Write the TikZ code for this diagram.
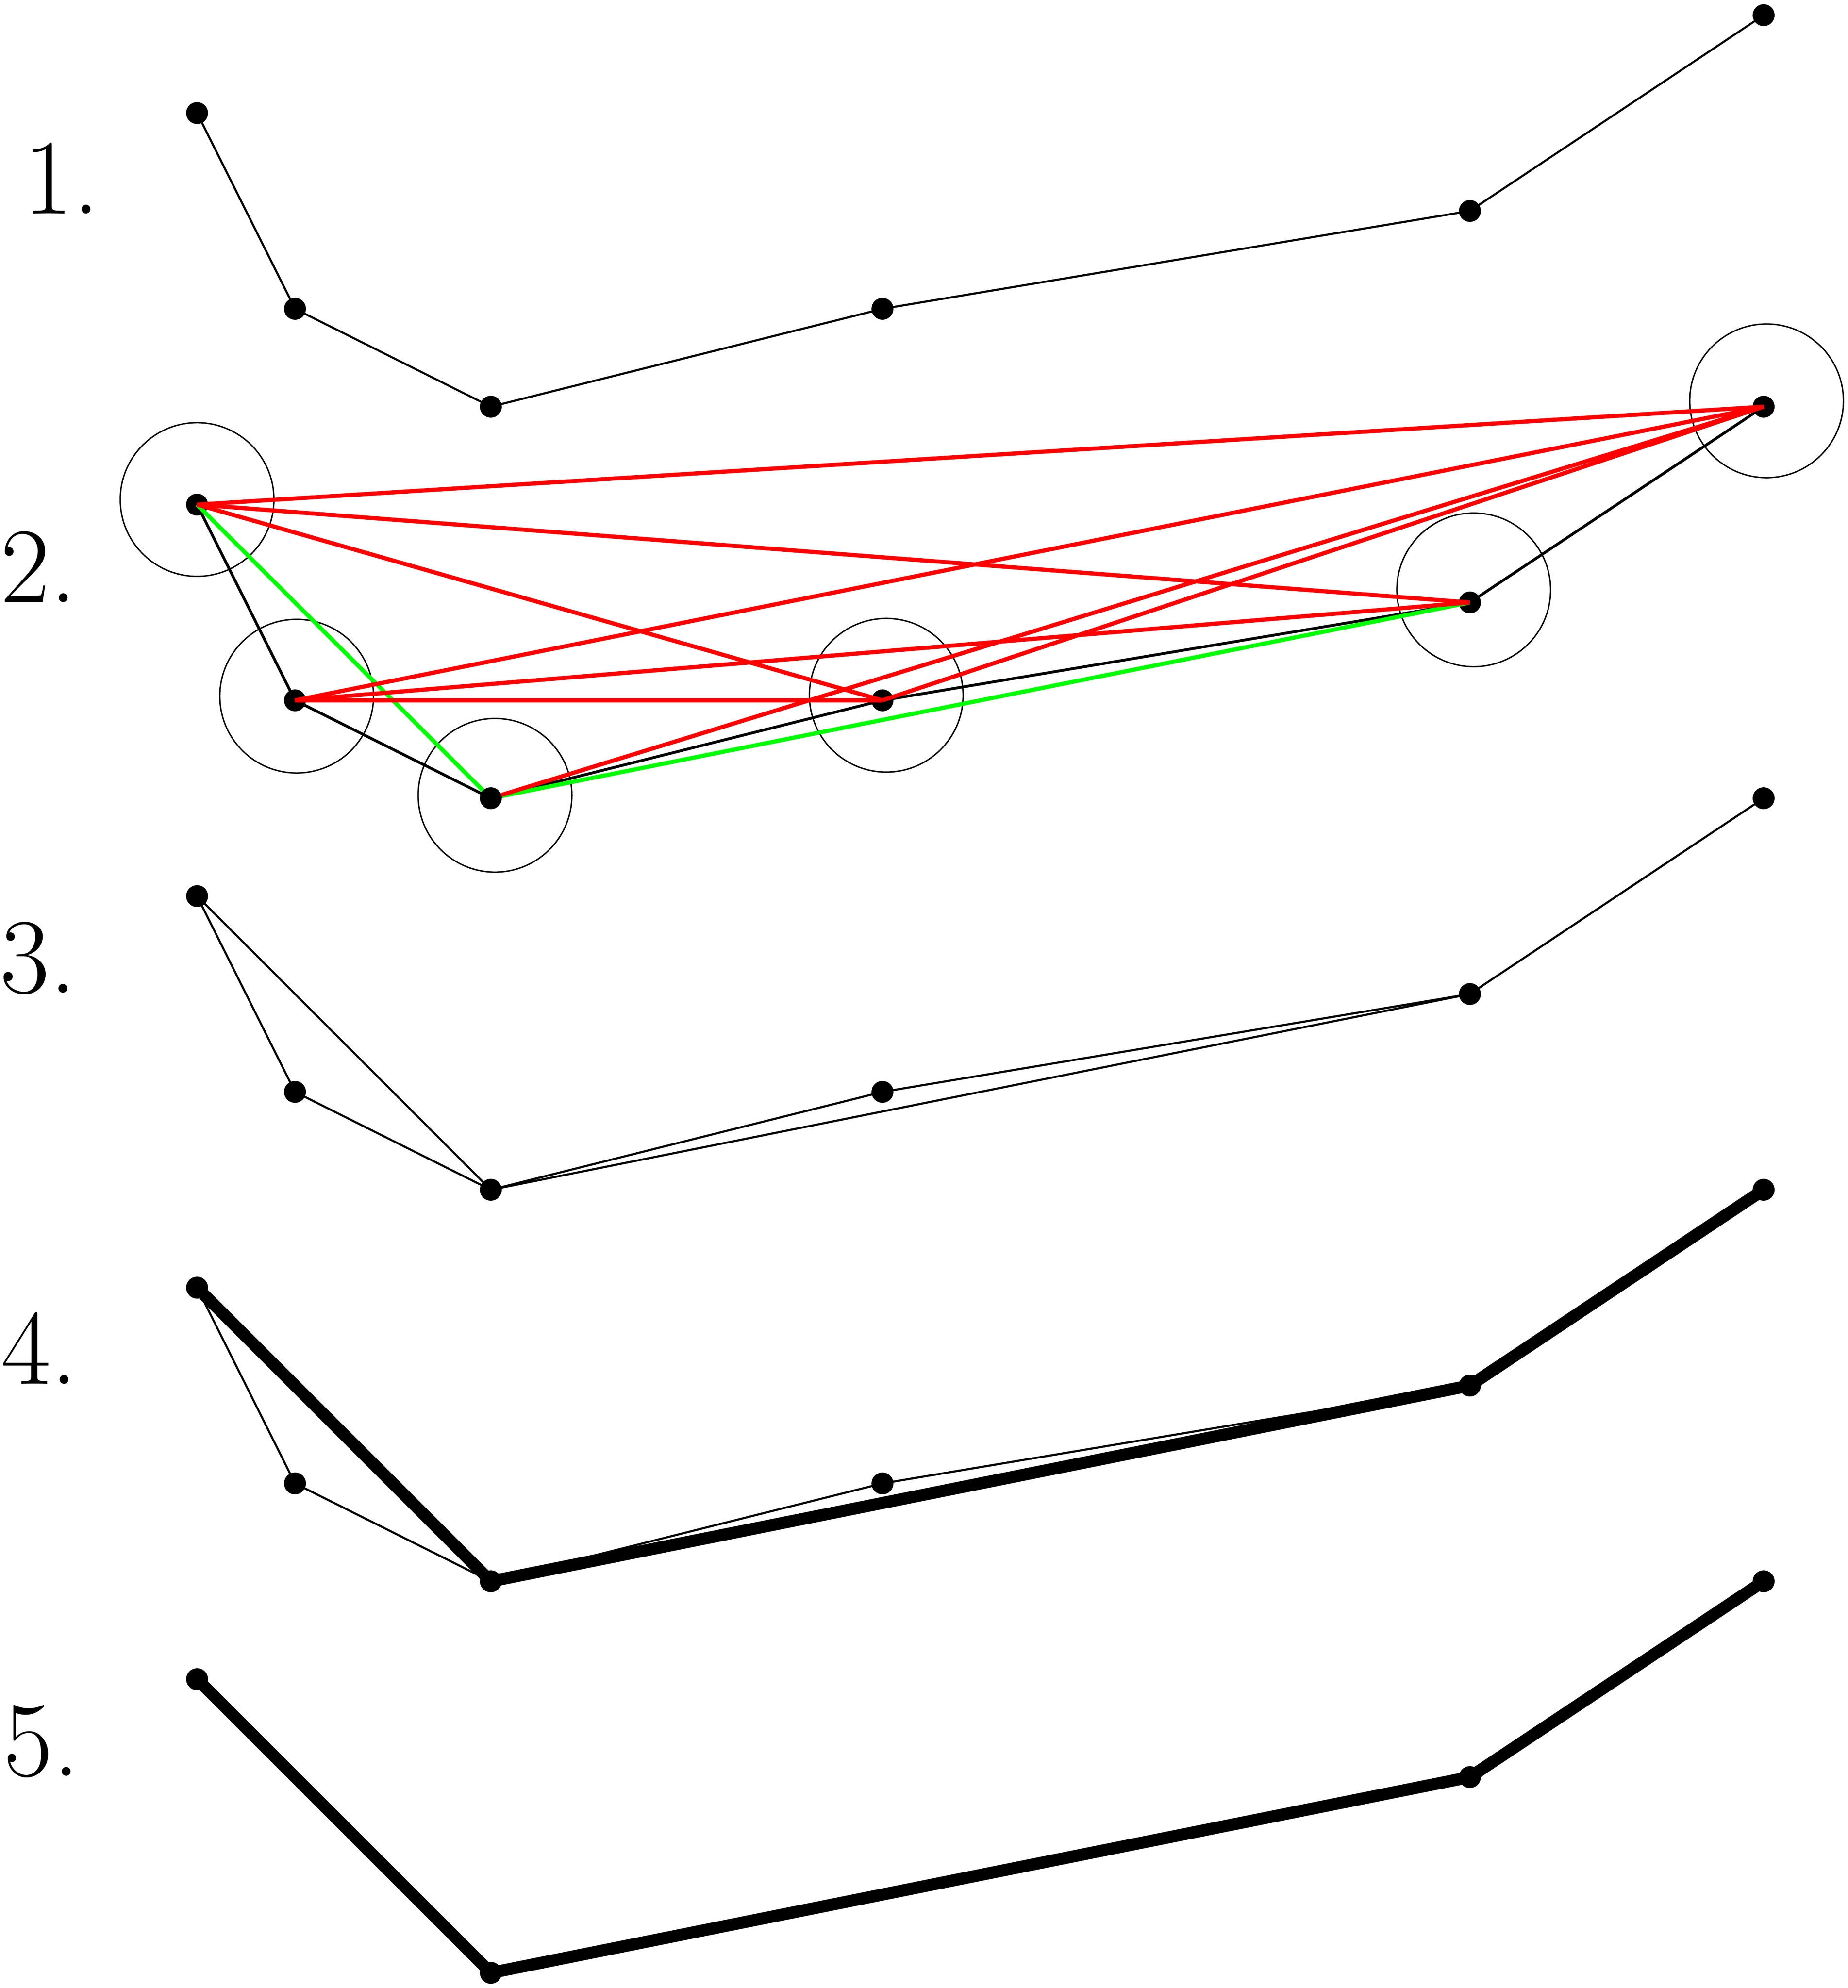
\documentclass[tikz,border=0pt]{standalone}
\usepackage{fontspec}
\begin{document}
\begin{tikzpicture}[
  pt/.style={circle, fill=black, inner sep=0pt, minimum size=0.224cm},
  baseln/.style={line width=0.6pt},
  frameln/.style={line width=0.8pt},
  halo/.style={draw, circle, inner sep=0pt, minimum size=1.57cm, line width=0.4pt},
  redln/.style={red, line width=1.2pt},
  greenln/.style={green, line width=1.2pt},
  heavy/.style={line width=3.5pt},
  lab/.style={anchor=base west, inner sep=0pt, font=\fontsize{31.2}{37}\selectfont}
]
\useasboundingbox (-2.013,1.155) rectangle (16.858,-19.155);

% ---------- labels
\node[lab] (l1) at (-1.78,-1.03) {1.};
\node[lab] (l2) at (-2.013,-4.996) {2.};
\node[lab] (l3) at (-2.017,-8.987) {3.};
\node[lab] (l4) at (-2.004,-12.983) {4.};
\node[lab] (l5) at (-1.983,-16.99) {5.};

% ---------- row 1
\coordinate (a1) at (0,0);
\coordinate (b1) at (1,-2);
\coordinate (c1) at (3,-3);
\coordinate (d1) at (7,-2);
\coordinate (e1) at (13,-1);
\coordinate (f1) at (16,1);
\draw[baseln] (a1) -- (b1) -- (c1) -- (d1) -- (e1) -- (f1);
\foreach \p in {a1,b1,c1,d1,e1,f1} \node[pt] at (\p) {};

% ---------- row 2
\coordinate (a2) at (0,-4);
\coordinate (b2) at (1,-6);
\coordinate (c2) at (3,-7);
\coordinate (d2) at (7,-6);
\coordinate (e2) at (13,-5);
\coordinate (f2) at (16,-3);
\node[halo] (ha) at (0,-3.948) {};
\node[halo] (hb) at (1.017,-5.957) {};
\node[halo] (hc) at (3.043,-6.970) {};
\node[halo] (hd) at (7.039,-5.948) {};
\node[halo] (he) at (13.039,-4.871) {};
\node[halo] (hf) at (16.030,-2.940) {};
\draw[frameln] (a2) -- (b2) -- (c2) -- (d2) -- (e2) -- (f2);
\foreach \p in {a2,b2,d2,e2,f2} \node[pt] at (\p) {};
\draw[greenln] (a2) -- (c2) -- (e2);
\draw[redln] (a2) -- (f2);
\draw[redln] (a2) -- (e2);
\draw[redln] (a2) -- (d2);
\draw[redln] (b2) -- (f2);
\draw[redln] (b2) -- (e2);
\draw[redln] (b2) -- (d2);
\draw[redln] (c2) -- (f2);
\draw[redln] (d2) -- (f2);
\node[pt] at (c2) {};

% ---------- row 3
\coordinate (a3) at (0,-8);
\coordinate (b3) at (1,-10);
\coordinate (c3) at (3,-11);
\coordinate (d3) at (7,-10);
\coordinate (e3) at (13,-9);
\coordinate (f3) at (16,-7);
\draw[baseln] (a3) -- (b3) -- (c3) -- (d3) -- (e3) -- (f3);
\draw[baseln] (a3) -- (c3) -- (e3);
\foreach \p in {a3,b3,c3,d3,e3,f3} \node[pt] at (\p) {};

% ---------- row 4
\coordinate (a4) at (0,-12);
\coordinate (b4) at (1,-14);
\coordinate (c4) at (3,-15);
\coordinate (d4) at (7,-14);
\coordinate (e4) at (13,-13);
\coordinate (f4) at (16,-11);
\draw[baseln] (a4) -- (b4) -- (c4) -- (d4) -- (e4) -- (f4);
\draw[heavy] (a4) -- (c4) -- (e4) -- (f4);
\foreach \p in {a4,b4,c4,d4,e4,f4} \node[pt] at (\p) {};

% ---------- row 5
\coordinate (a5) at (0,-16);
\coordinate (c5) at (3,-19);
\coordinate (e5) at (13,-17);
\coordinate (f5) at (16,-15);
\draw[heavy] (a5) -- (c5) -- (e5) -- (f5);
\foreach \p in {a5,c5,e5,f5} \node[pt] at (\p) {};
\end{tikzpicture}
\end{document}
